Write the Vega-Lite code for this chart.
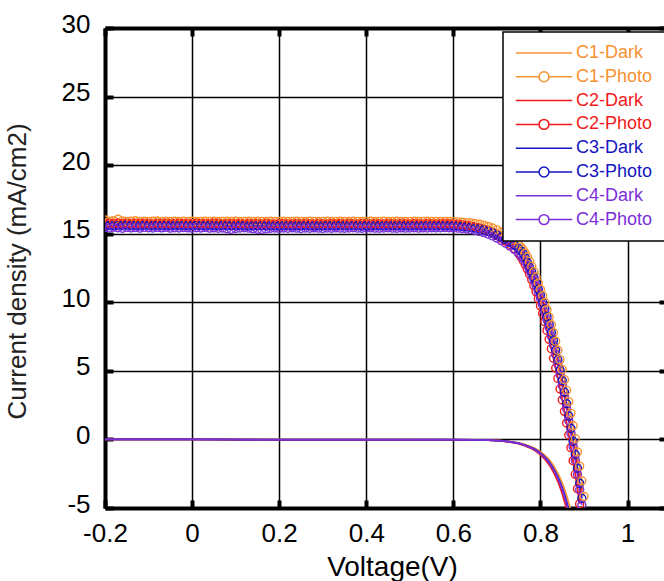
{
  "$schema": "https://vega.github.io/schema/vega-lite/v6.json",
  "width": 560,
  "height": 480,
  "autosize": "none",
  "padding": {"left": 105, "top": 28, "right": 0, "bottom": 73},
  "background": "white",
  "config": {
    "font": "Liberation Sans",
    "view": {"stroke": null},
    "axis": {"labelFont": "Liberation Sans", "titleFont": "Liberation Sans"}
  },
  "datasets": {
    "jv": [
      {"V": -0.2, "C1-Dark": 0, "C2-Dark": 0, "C3-Dark": 0, "C4-Dark": 0, "C1-Photo": 16.0, "C2-Photo": 15.8, "C3-Photo": 15.62, "C4-Photo": 15.45},
      {"V": -0.19, "C1-Photo": 15.92, "C2-Photo": 15.76, "C3-Photo": 15.6, "C4-Photo": 15.42},
      {"V": -0.18, "C1-Photo": 15.95, "C2-Photo": 15.74, "C3-Photo": 15.58, "C4-Photo": 15.47},
      {"V": -0.17, "C1-Photo": 16.05, "C2-Photo": 15.78, "C3-Photo": 15.61, "C4-Photo": 15.44},
      {"V": -0.16, "C1-Photo": 15.93, "C2-Photo": 15.75, "C3-Photo": 15.6, "C4-Photo": 15.4},
      {"V": -0.15, "C1-Photo": 15.9, "C2-Photo": 15.77, "C3-Photo": 15.63, "C4-Photo": 15.46},
      {"V": -0.14, "C1-Photo": 15.91, "C2-Photo": 15.73, "C3-Photo": 15.59, "C4-Photo": 15.43},
      {"V": -0.13, "C1-Photo": 15.94, "C2-Photo": 15.76, "C3-Photo": 15.6, "C4-Photo": 15.45},
      {"V": -0.12, "C1-Photo": 15.9, "C2-Photo": 15.74, "C3-Photo": 15.57, "C4-Photo": 15.41},
      {"V": -0.11, "C1-Photo": 15.92, "C2-Photo": 15.77, "C3-Photo": 15.62, "C4-Photo": 15.46},
      {"V": -0.1, "C1-Photo": 15.9, "C2-Photo": 15.75, "C3-Photo": 15.6, "C4-Photo": 15.44},
      {"V": -0.09, "C1-Photo": 15.91, "C2-Photo": 15.72, "C3-Photo": 15.58, "C4-Photo": 15.42},
      {"V": -0.08, "C1-Photo": 15.93, "C2-Photo": 15.76, "C3-Photo": 15.61, "C4-Photo": 15.45},
      {"V": -0.07, "C1-Photo": 15.9, "C2-Photo": 15.74, "C3-Photo": 15.59, "C4-Photo": 15.43},
      {"V": -0.06, "C1-Photo": 15.92, "C2-Photo": 15.77, "C3-Photo": 15.6, "C4-Photo": 15.46},
      {"V": -0.05, "C1-Photo": 15.89, "C2-Photo": 15.73, "C3-Photo": 15.58, "C4-Photo": 15.41},
      {"V": -0.04, "C1-Photo": 15.91, "C2-Photo": 15.75, "C3-Photo": 15.61, "C4-Photo": 15.44},
      {"V": -0.03, "C1-Photo": 15.9, "C2-Photo": 15.76, "C3-Photo": 15.59, "C4-Photo": 15.42},
      {"V": -0.02, "C1-Photo": 15.92, "C2-Photo": 15.74, "C3-Photo": 15.6, "C4-Photo": 15.45},
      {"V": -0.01, "C1-Photo": 15.9, "C2-Photo": 15.75, "C3-Photo": 15.58, "C4-Photo": 15.43},
      {"V": 0.0, "C1-Dark": 0, "C2-Dark": 0, "C3-Dark": 0, "C4-Dark": 0, "C1-Photo": 15.91, "C2-Photo": 15.73, "C3-Photo": 15.6, "C4-Photo": 15.4},
      {"V": 0.01, "C1-Photo": 15.89, "C2-Photo": 15.76, "C3-Photo": 15.61, "C4-Photo": 15.44},
      {"V": 0.02, "C1-Photo": 15.9, "C2-Photo": 15.74, "C3-Photo": 15.59, "C4-Photo": 15.42},
      {"V": 0.03, "C1-Photo": 15.92, "C2-Photo": 15.75, "C3-Photo": 15.58, "C4-Photo": 15.45},
      {"V": 0.04, "C1-Photo": 15.9, "C2-Photo": 15.73, "C3-Photo": 15.6, "C4-Photo": 15.41},
      {"V": 0.05, "C1-Photo": 15.91, "C2-Photo": 15.76, "C3-Photo": 15.59, "C4-Photo": 15.43},
      {"V": 0.06, "C1-Photo": 15.89, "C2-Photo": 15.74, "C3-Photo": 15.57, "C4-Photo": 15.4},
      {"V": 0.07, "C1-Photo": 15.9, "C2-Photo": 15.72, "C3-Photo": 15.6, "C4-Photo": 15.42},
      {"V": 0.08, "C1-Photo": 15.92, "C2-Photo": 15.75, "C3-Photo": 15.58, "C4-Photo": 15.36},
      {"V": 0.09, "C1-Photo": 15.9, "C2-Photo": 15.74, "C3-Photo": 15.59, "C4-Photo": 15.32},
      {"V": 0.1, "C1-Photo": 15.91, "C2-Photo": 15.73, "C3-Photo": 15.57, "C4-Photo": 15.38},
      {"V": 0.11, "C1-Photo": 15.89, "C2-Photo": 15.75, "C3-Photo": 15.6, "C4-Photo": 15.42},
      {"V": 0.12, "C1-Photo": 15.9, "C2-Photo": 15.72, "C3-Photo": 15.58, "C4-Photo": 15.44},
      {"V": 0.13, "C1-Photo": 15.91, "C2-Photo": 15.74, "C3-Photo": 15.56, "C4-Photo": 15.41},
      {"V": 0.14, "C1-Photo": 15.9, "C2-Photo": 15.73, "C3-Photo": 15.58, "C4-Photo": 15.37},
      {"V": 0.15, "C1-Photo": 15.92, "C2-Photo": 15.75, "C3-Photo": 15.57, "C4-Photo": 15.33},
      {"V": 0.16, "C1-Photo": 15.9, "C2-Photo": 15.72, "C3-Photo": 15.59, "C4-Photo": 15.31},
      {"V": 0.17, "C1-Photo": 15.89, "C2-Photo": 15.74, "C3-Photo": 15.56, "C4-Photo": 15.35},
      {"V": 0.18, "C1-Photo": 15.91, "C2-Photo": 15.73, "C3-Photo": 15.58, "C4-Photo": 15.4},
      {"V": 0.19, "C1-Photo": 15.9, "C2-Photo": 15.71, "C3-Photo": 15.57, "C4-Photo": 15.42},
      {"V": 0.2, "C1-Dark": 0, "C2-Dark": -0.03, "C3-Dark": -0.01, "C4-Dark": -0.01, "C1-Photo": 15.9, "C2-Photo": 15.73, "C3-Photo": 15.58, "C4-Photo": 15.39},
      {"V": 0.21, "C1-Photo": 15.91, "C2-Photo": 15.74, "C3-Photo": 15.57, "C4-Photo": 15.42},
      {"V": 0.22, "C1-Photo": 15.89, "C2-Photo": 15.72, "C3-Photo": 15.59, "C4-Photo": 15.4},
      {"V": 0.23, "C1-Photo": 15.9, "C2-Photo": 15.73, "C3-Photo": 15.56, "C4-Photo": 15.43},
      {"V": 0.24, "C1-Photo": 15.92, "C2-Photo": 15.75, "C3-Photo": 15.58, "C4-Photo": 15.41},
      {"V": 0.25, "C1-Photo": 15.9, "C2-Photo": 15.72, "C3-Photo": 15.57, "C4-Photo": 15.38},
      {"V": 0.26, "C1-Photo": 15.89, "C2-Photo": 15.74, "C3-Photo": 15.59, "C4-Photo": 15.42},
      {"V": 0.27, "C1-Photo": 15.91, "C2-Photo": 15.73, "C3-Photo": 15.58, "C4-Photo": 15.4},
      {"V": 0.28, "C1-Photo": 15.9, "C2-Photo": 15.71, "C3-Photo": 15.56, "C4-Photo": 15.43},
      {"V": 0.29, "C1-Photo": 15.89, "C2-Photo": 15.74, "C3-Photo": 15.58, "C4-Photo": 15.41},
      {"V": 0.3, "C1-Photo": 15.9, "C2-Photo": 15.73, "C3-Photo": 15.57, "C4-Photo": 15.39},
      {"V": 0.31, "C1-Photo": 15.91, "C2-Photo": 15.72, "C3-Photo": 15.59, "C4-Photo": 15.42},
      {"V": 0.32, "C1-Photo": 15.89, "C2-Photo": 15.74, "C3-Photo": 15.58, "C4-Photo": 15.4},
      {"V": 0.33, "C1-Photo": 15.9, "C2-Photo": 15.73, "C3-Photo": 15.57, "C4-Photo": 15.43},
      {"V": 0.34, "C1-Photo": 15.92, "C2-Photo": 15.75, "C3-Photo": 15.6, "C4-Photo": 15.41},
      {"V": 0.35, "C1-Photo": 15.9, "C2-Photo": 15.72, "C3-Photo": 15.58, "C4-Photo": 15.4},
      {"V": 0.36, "C1-Photo": 15.89, "C2-Photo": 15.74, "C3-Photo": 15.57, "C4-Photo": 15.42},
      {"V": 0.37, "C1-Photo": 15.91, "C2-Photo": 15.73, "C3-Photo": 15.59, "C4-Photo": 15.44},
      {"V": 0.38, "C1-Photo": 15.9, "C2-Photo": 15.72, "C3-Photo": 15.58, "C4-Photo": 15.41},
      {"V": 0.39, "C1-Photo": 15.89, "C2-Photo": 15.74, "C3-Photo": 15.56, "C4-Photo": 15.4},
      {"V": 0.4, "C1-Dark": 0, "C2-Dark": -0.03, "C3-Dark": -0.02, "C4-Dark": -0.01, "C1-Photo": 15.9, "C2-Photo": 15.73, "C3-Photo": 15.58, "C4-Photo": 15.42},
      {"V": 0.41, "C1-Photo": 15.91, "C2-Photo": 15.72, "C3-Photo": 15.57, "C4-Photo": 15.43},
      {"V": 0.42, "C1-Photo": 15.89, "C2-Photo": 15.74, "C3-Photo": 15.59, "C4-Photo": 15.41},
      {"V": 0.43, "C1-Photo": 15.9, "C2-Photo": 15.73, "C3-Photo": 15.58, "C4-Photo": 15.4},
      {"V": 0.44, "C1-Photo": 15.92, "C2-Photo": 15.72, "C3-Photo": 15.57, "C4-Photo": 15.42},
      {"V": 0.45, "C1-Photo": 15.9, "C2-Photo": 15.74, "C3-Photo": 15.59, "C4-Photo": 15.44},
      {"V": 0.46, "C1-Photo": 15.89, "C2-Photo": 15.73, "C3-Photo": 15.58, "C4-Photo": 15.41},
      {"V": 0.47, "C1-Photo": 15.91, "C2-Photo": 15.72, "C3-Photo": 15.57, "C4-Photo": 15.4},
      {"V": 0.48, "C1-Photo": 15.9, "C2-Photo": 15.74, "C3-Photo": 15.59, "C4-Photo": 15.43},
      {"V": 0.49, "C1-Photo": 15.89, "C2-Photo": 15.73, "C3-Photo": 15.58, "C4-Photo": 15.41},
      {"V": 0.5, "C1-Dark": 0, "C2-Dark": -0.03, "C3-Dark": -0.02, "C4-Dark": -0.01, "C1-Photo": 15.9, "C2-Photo": 15.72, "C3-Photo": 15.57, "C4-Photo": 15.42},
      {"V": 0.51, "C1-Photo": 15.91, "C2-Photo": 15.74, "C3-Photo": 15.59, "C4-Photo": 15.44},
      {"V": 0.52, "C1-Photo": 15.89, "C2-Photo": 15.73, "C3-Photo": 15.58, "C4-Photo": 15.41},
      {"V": 0.53, "C1-Photo": 15.9, "C2-Photo": 15.72, "C3-Photo": 15.57, "C4-Photo": 15.43},
      {"V": 0.54, "C1-Photo": 15.91, "C2-Photo": 15.74, "C3-Photo": 15.59, "C4-Photo": 15.42},
      {"V": 0.55, "C1-Photo": 15.89, "C2-Photo": 15.73, "C3-Photo": 15.58, "C4-Photo": 15.44},
      {"V": 0.56, "C1-Photo": 15.9, "C2-Photo": 15.72, "C3-Photo": 15.57, "C4-Photo": 15.43},
      {"V": 0.57, "C1-Photo": 15.89, "C2-Photo": 15.73, "C3-Photo": 15.59, "C4-Photo": 15.44},
      {"V": 0.58, "C1-Photo": 15.9, "C2-Photo": 15.74, "C3-Photo": 15.58, "C4-Photo": 15.45},
      {"V": 0.59, "C1-Photo": 15.89, "C2-Photo": 15.73, "C3-Photo": 15.58, "C4-Photo": 15.44},
      {"V": 0.6, "C1-Dark": -0.01, "C2-Dark": -0.03, "C3-Dark": -0.02, "C4-Dark": -0.02, "C1-Photo": 15.88, "C2-Photo": 15.72, "C3-Photo": 15.58, "C4-Photo": 15.43},
      {"V": 0.61, "C1-Photo": 15.86, "C2-Photo": 15.7, "C3-Photo": 15.56, "C4-Photo": 15.41},
      {"V": 0.62, "C1-Photo": 15.84, "C2-Photo": 15.66, "C3-Photo": 15.53, "C4-Photo": 15.38},
      {"V": 0.63, "C1-Photo": 15.81, "C2-Photo": 15.62, "C3-Photo": 15.5, "C4-Photo": 15.34},
      {"V": 0.64, "C1-Photo": 15.78, "C2-Photo": 15.57, "C3-Photo": 15.46, "C4-Photo": 15.3},
      {"V": 0.65, "C1-Dark": -0.03, "C2-Dark": -0.04, "C3-Dark": -0.03, "C4-Dark": -0.03, "C1-Photo": 15.74, "C2-Photo": 15.5, "C3-Photo": 15.41, "C4-Photo": 15.24},
      {"V": 0.66, "C1-Photo": 15.69, "C2-Photo": 15.42, "C3-Photo": 15.35, "C4-Photo": 15.17},
      {"V": 0.67, "C1-Photo": 15.62, "C2-Photo": 15.32, "C3-Photo": 15.27, "C4-Photo": 15.08},
      {"V": 0.68, "C1-Dark": -0.045, "C2-Dark": -0.055, "C3-Dark": -0.05, "C4-Dark": -0.05, "C1-Photo": 15.53, "C2-Photo": 15.2, "C3-Photo": 15.17, "C4-Photo": 14.97},
      {"V": 0.69, "C1-Dark": -0.06, "C2-Dark": -0.07, "C3-Dark": -0.065, "C4-Dark": -0.07, "C1-Photo": 15.42, "C2-Photo": 15.05, "C3-Photo": 15.05, "C4-Photo": 14.84},
      {"V": 0.7, "C1-Dark": -0.07, "C2-Dark": -0.09, "C3-Dark": -0.08, "C4-Dark": -0.085, "C1-Photo": 15.28, "C2-Photo": 14.88, "C3-Photo": 14.9, "C4-Photo": 14.68},
      {"V": 0.71, "C1-Dark": -0.09, "C2-Dark": -0.11, "C3-Dark": -0.1, "C4-Dark": -0.1, "C1-Photo": 15.12, "C2-Photo": 14.68, "C3-Photo": 14.74, "C4-Photo": 14.5},
      {"V": 0.72, "C1-Dark": -0.12, "C2-Dark": -0.15, "C3-Dark": -0.13, "C4-Dark": -0.135, "C1-Photo": 14.94, "C2-Photo": 14.46, "C3-Photo": 14.56, "C4-Photo": 14.31},
      {"V": 0.73, "C1-Dark": -0.15, "C2-Dark": -0.19, "C3-Dark": -0.17, "C4-Dark": -0.18, "C1-Photo": 14.74, "C2-Photo": 14.22, "C3-Photo": 14.38, "C4-Photo": 14.1},
      {"V": 0.74, "C1-Dark": -0.2, "C2-Dark": -0.25, "C3-Dark": -0.22, "C4-Dark": -0.23, "C1-Photo": 14.5, "C2-Photo": 13.92, "C3-Photo": 14.18, "C4-Photo": 13.86},
      {"V": 0.75, "C1-Dark": -0.25, "C2-Dark": -0.31, "C3-Dark": -0.28, "C4-Dark": -0.29, "C1-Photo": 14.2, "C2-Photo": 13.55, "C3-Photo": 13.92, "C4-Photo": 13.58},
      {"V": 0.755, "C1-Dark": -0.29, "C2-Dark": -0.36, "C3-Dark": -0.32, "C4-Dark": -0.33, "C1-Photo": 14.02, "C2-Photo": 13.32, "C3-Photo": 13.75, "C4-Photo": 13.42},
      {"V": 0.76, "C1-Dark": -0.33, "C2-Dark": -0.41, "C3-Dark": -0.37, "C4-Dark": -0.38, "C1-Photo": 13.82, "C2-Photo": 13.05, "C3-Photo": 13.55, "C4-Photo": 13.22},
      {"V": 0.765, "C1-Dark": -0.38, "C2-Dark": -0.47, "C3-Dark": -0.42, "C4-Dark": -0.44, "C1-Photo": 13.58, "C2-Photo": 12.75, "C3-Photo": 13.25, "C4-Photo": 12.98},
      {"V": 0.77, "C1-Dark": -0.43, "C2-Dark": -0.54, "C3-Dark": -0.48, "C4-Dark": -0.5, "C1-Photo": 13.3, "C2-Photo": 12.42, "C3-Photo": 12.9, "C4-Photo": 12.7},
      {"V": 0.775, "C1-Dark": -0.49, "C2-Dark": -0.6, "C3-Dark": -0.54, "C4-Dark": -0.56, "C1-Photo": 12.98, "C2-Photo": 12.05, "C3-Photo": 12.55, "C4-Photo": 12.38},
      {"V": 0.78, "C1-Dark": -0.55, "C2-Dark": -0.68, "C3-Dark": -0.61, "C4-Dark": -0.63, "C1-Photo": 12.62, "C2-Photo": 11.65, "C3-Photo": 12.2, "C4-Photo": 12.02},
      {"V": 0.785, "C1-Dark": -0.62, "C2-Dark": -0.77, "C3-Dark": -0.69, "C4-Dark": -0.72, "C1-Photo": 12.24, "C2-Photo": 11.22, "C3-Photo": 11.8, "C4-Photo": 11.62},
      {"V": 0.79, "C1-Dark": -0.7, "C2-Dark": -0.87, "C3-Dark": -0.78, "C4-Dark": -0.81, "C1-Photo": 11.84, "C2-Photo": 10.76, "C3-Photo": 11.4, "C4-Photo": 11.2},
      {"V": 0.795, "C1-Dark": -0.79, "C2-Dark": -0.99, "C3-Dark": -0.88, "C4-Dark": -0.92, "C1-Photo": 11.4, "C2-Photo": 10.26, "C3-Photo": 10.95, "C4-Photo": 10.76},
      {"V": 0.8, "C1-Dark": -0.9, "C2-Dark": -1.12, "C3-Dark": -1.0, "C4-Dark": -1.04, "C1-Photo": 10.95, "C2-Photo": 9.74, "C3-Photo": 10.5, "C4-Photo": 10.3},
      {"V": 0.805, "C1-Dark": -1.02, "C2-Dark": -1.27, "C3-Dark": -1.13, "C4-Dark": -1.18, "C1-Photo": 10.48, "C2-Photo": 9.18, "C3-Photo": 10.0, "C4-Photo": 9.8},
      {"V": 0.81, "C1-Dark": -1.16, "C2-Dark": -1.44, "C3-Dark": -1.29, "C4-Dark": -1.34, "C1-Photo": 9.98, "C2-Photo": 8.58, "C3-Photo": 9.5, "C4-Photo": 9.28},
      {"V": 0.815, "C1-Dark": -1.31, "C2-Dark": -1.64, "C3-Dark": -1.46, "C4-Dark": -1.52, "C1-Photo": 9.46, "C2-Photo": 7.95, "C3-Photo": 8.95, "C4-Photo": 8.72},
      {"V": 0.82, "C1-Dark": -1.49, "C2-Dark": -1.85, "C3-Dark": -1.65, "C4-Dark": -1.72, "C1-Photo": 8.92, "C2-Photo": 7.3, "C3-Photo": 8.4, "C4-Photo": 8.14},
      {"V": 0.825, "C1-Dark": -1.69, "C2-Dark": -2.11, "C3-Dark": -1.88, "C4-Dark": -1.96, "C1-Photo": 8.36, "C2-Photo": 6.62, "C3-Photo": 7.8, "C4-Photo": 7.52},
      {"V": 0.83, "C1-Dark": -1.92, "C2-Dark": -2.39, "C3-Dark": -2.13, "C4-Dark": -2.22, "C1-Photo": 7.78, "C2-Photo": 5.92, "C3-Photo": 7.2, "C4-Photo": 6.88},
      {"V": 0.835, "C1-Dark": -2.18, "C2-Dark": -2.71, "C3-Dark": -2.42, "C4-Dark": -2.52, "C1-Photo": 7.16, "C2-Photo": 5.2, "C3-Photo": 6.5, "C4-Photo": 6.2},
      {"V": 0.84, "C1-Dark": -2.47, "C2-Dark": -3.07, "C3-Dark": -2.74, "C4-Dark": -2.85, "C1-Photo": 6.5, "C2-Photo": 4.45, "C3-Photo": 5.8, "C4-Photo": 5.48},
      {"V": 0.845, "C1-Dark": -2.8, "C2-Dark": -3.48, "C3-Dark": -3.11, "C4-Dark": -3.23, "C1-Photo": 5.82, "C2-Photo": 3.68, "C3-Photo": 5.05, "C4-Photo": 4.72},
      {"V": 0.85, "C1-Dark": -3.18, "C2-Dark": -3.95, "C3-Dark": -3.53, "C4-Dark": -3.67, "C1-Photo": 5.1, "C2-Photo": 2.88, "C3-Photo": 4.3, "C4-Photo": 3.94},
      {"V": 0.855, "C1-Dark": -3.6, "C2-Dark": -4.48, "C3-Dark": -4.0, "C4-Dark": -4.16, "C1-Photo": 4.36, "C2-Photo": 2.05, "C3-Photo": 3.45, "C4-Photo": 3.12},
      {"V": 0.86, "C1-Dark": -4.09, "C2-Dark": -5.08, "C3-Dark": -4.54, "C4-Dark": -4.72, "C1-Photo": 3.58, "C2-Photo": 1.2, "C3-Photo": 2.6, "C4-Photo": 2.26},
      {"V": 0.865, "C1-Dark": -4.64, "C2-Dark": -5.77, "C3-Dark": -5.15, "C4-Dark": -5.36, "C1-Photo": 2.76, "C2-Photo": 0.32, "C3-Photo": 1.7, "C4-Photo": 1.36},
      {"V": 0.87, "C1-Dark": -5.22, "C3-Dark": -5.8, "C4-Dark": -6.0, "C1-Photo": 1.9, "C2-Photo": -0.6, "C3-Photo": 0.8, "C4-Photo": 0.44},
      {"V": 0.875, "C1-Dark": -5.9, "C1-Photo": 1.0, "C2-Photo": -1.55, "C3-Photo": -0.15, "C4-Photo": -0.52},
      {"V": 0.88, "C1-Photo": 0.06, "C2-Photo": -2.55, "C3-Photo": -1.1, "C4-Photo": -1.52},
      {"V": 0.885, "C1-Photo": -0.92, "C2-Photo": -3.6, "C3-Photo": -2.1, "C4-Photo": -2.56},
      {"V": 0.89, "C1-Photo": -1.95, "C2-Photo": -4.7, "C3-Photo": -3.2, "C4-Photo": -3.65},
      {"V": 0.895, "C1-Photo": -3.02, "C3-Photo": -4.3, "C4-Photo": -4.78},
      {"V": 0.9, "C1-Photo": -4.15}
    ]
  },
  "data": {"name": "jv"},
  "transform": [
    {"fold": ["C1-Dark", "C1-Photo", "C2-Dark", "C2-Photo", "C3-Dark", "C3-Photo", "C4-Dark", "C4-Photo"], "as": ["series", "J"]},
    {"filter": "isValid(datum.J)"}
  ],
  "layer": [
    {
      "mark": {"type": "line", "strokeWidth": 1.8, "clip": true},
      "encoding": {
        "x": {
          "field": "V", "type": "quantitative",
          "scale": {"domain": [-0.2, 1.086], "nice": false, "zero": false},
          "axis": {
            "orient": "bottom",
            "values": [-0.2, 0, 0.2, 0.4, 0.6, 0.8, 1],
            "labelExpr": "replace(format(datum.value, '.1~f'), '\u2212', '-')",
            "labelFontSize": 26, "labelColor": "black", "labelPadding": 20, "labelFlush": false, "labelOverlap": false,
            "ticks": true, "tickSize": -8, "tickWidth": 4, "tickColor": "black",
            "domainColor": "black", "domainWidth": 4,
            "grid": true, "gridColor": "black", "gridWidth": 1.5, "gridOpacity": 1,
            "title": "Voltage(V)", "titleFontSize": 28, "titleFontWeight": "normal", "titleColor": "black",
            "titleX": 287, "titleY": 67, "titleBaseline": "alphabetic", "titleAlign": "center", "titleAnchor": null
          }
        },
        "y": {
          "field": "J", "type": "quantitative",
          "scale": {"domain": [-5, 30], "nice": false, "zero": false},
          "axis": {
            "orient": "left",
            "values": [-5, 0, 5, 10, 15, 20, 25, 30],
            "labelExpr": "replace(format(datum.value, 'd'), '\u2212', '-')",
            "labelFontSize": 26, "labelColor": "black", "labelPadding": 23, "labelOffset": -4, "labelFlush": false, "labelOverlap": false,
            "ticks": true, "tickSize": -8, "tickWidth": 4, "tickColor": "black",
            "domainColor": "black", "domainWidth": 4,
            "grid": true, "gridColor": "black", "gridWidth": 1.5, "gridOpacity": 1,
            "title": "Current density (mA/cm2)", "titleFontSize": 26, "titleFontWeight": "normal", "titleColor": "#222222",
            "titleX": -80, "titleY": 243, "titleAngle": -90, "titleBaseline": "alphabetic", "titleAlign": "center", "titleAnchor": null
          }
        },
        "color": {
          "field": "series", "type": "nominal",
          "scale": {
            "domain": ["C1-Dark", "C1-Photo", "C2-Dark", "C2-Photo", "C3-Dark", "C3-Photo", "C4-Dark", "C4-Photo"],
            "range": ["#F79232", "#F79232", "#F21B1B", "#F21B1B", "#1515C0", "#1515C0", "#7B30D8", "#7B30D8"]
          },
          "legend": {
            "title": null, "orient": "none", "legendX": 398, "legendY": 4,
            "padding": 12, "fillColor": "white", "strokeColor": "black",
            "labelFont": "Liberation Sans", "labelFontSize": 18, "labelLimit": 300,
            "symbolSize": 200, "symbolStrokeWidth": 1.5, "symbolOffset": 20, "labelOffset": 23,
            "rowPadding": 5.8, "clipHeight": 18,
            "encode": {
              "symbols": {"update": {
                "shape": {"signal": "indexof(datum.value, 'Photo') >= 0 ? 'M-4,0H-0.7M0.7,0H4M-0.7,0A0.7,0.7,0,1,0,0.7,0A0.7,0.7,0,1,0,-0.7,0' : 'M-4,0H4'"},
                "size": {"value": 200},
                "fill": {"value": "transparent"},
                "stroke": {"scale": "color", "field": "value"},
                "strokeWidth": {"value": 1.5},
                "opacity": {"value": 1}
              }},
              "labels": {"update": {"fill": {"scale": "color", "field": "value"}}},
              "legend": {"update": {"strokeWidth": {"value": 1.5}}}
            }
          }
        }
      }
    },
    {
      "transform": [{"filter": "indexof(datum.series, 'Photo') >= 0"}],
      "mark": {"type": "point", "filled": false, "size": 64, "strokeWidth": 1.4, "clip": true, "opacity": 1},
      "encoding": {
        "x": {
          "field": "V", "type": "quantitative",
          "axis": {
            "orient": "top", "values": [-0.2, 0, 0.2, 0.4, 0.6, 0.8, 1],
            "labels": false, "ticks": true, "tickSize": -8, "tickWidth": 4, "tickColor": "black",
            "domainColor": "black", "domainWidth": 4, "grid": false, "title": null
          }
        },
        "y": {
          "field": "J", "type": "quantitative",
          "axis": {
            "orient": "right", "values": [-5, 0, 5, 10, 15, 20, 25, 30],
            "labels": false, "ticks": true, "tickSize": -6, "tickWidth": 4, "tickColor": "black",
            "domain": false, "grid": false, "title": null
          }
        },
        "color": {"field": "series", "type": "nominal"}
      }
    }
  ],
  "resolve": {"axis": {"x": "independent", "y": "independent"}}
}
